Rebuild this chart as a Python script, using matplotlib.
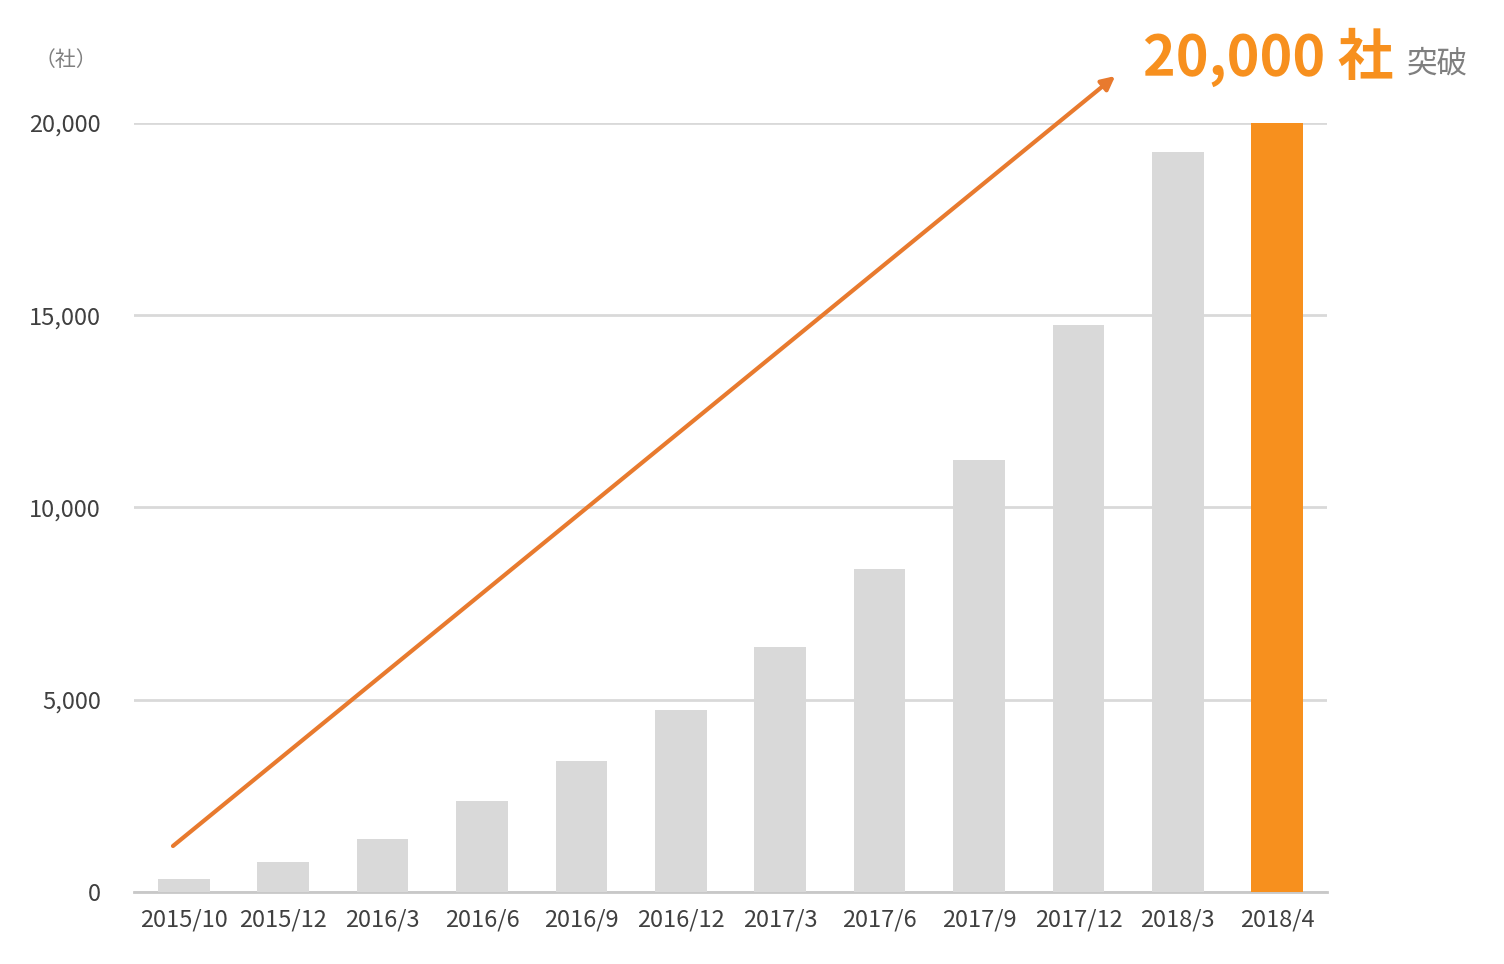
import matplotlib
matplotlib.use("Agg")
import matplotlib.pyplot as plt

plt.rcParams['font.family'] = ['Noto Sans CJK JP', 'DejaVu Sans']

categories = ["2015/10", "2015/12", "2016/3", "2016/6", "2016/9", "2016/12",
              "2017/3", "2017/6", "2017/9", "2017/12", "2018/3", "2018/4"]
values = [340, 780, 1380, 2370, 3410, 4730, 6370, 8400, 11240, 14750, 19250, 20000]
yticks = [0, 5000, 10000, 15000, 20000]
ytick_labels = ["0", "5,000", "10,000", "15,000", "20,000"]

grey = "#D9D9D9"
orange = "#F7901E"
arrow_col = "#E87A2E"
text_col = "#404040"

fig = plt.figure(figsize=(15.04, 9.64), dpi=100)
ax = fig.add_axes([0.0891, 0.0747, 0.7932, 0.7977])

colors = [grey] * (len(values) - 1) + [orange]
x = list(range(len(categories)))
ax.bar(x, values, width=0.52, color=colors, zorder=3)

ax.set_xlim(-0.5, len(categories) - 0.5)
ax.set_ylim(0, 20000)
ax.set_yticks(yticks)
ax.set_yticklabels(ytick_labels)
ax.set_xticks(x)
ax.set_xticklabels(categories)
ax.grid(axis='y', color=grey, linewidth=2, zorder=0)
for s in ['top', 'right', 'left']:
    ax.spines[s].set_visible(False)
ax.spines['bottom'].set_color("#C8C8C8")
ax.spines['bottom'].set_linewidth(2)
ax.tick_params(axis='both', length=0, labelsize=17, labelcolor=text_col)
ax.tick_params(axis='y', pad=24)
ax.tick_params(axis='x', pad=12)

ax.annotate("", xy=(9.37, 21222), xytext=(-0.108, 1196),
            arrowprops=dict(arrowstyle="-|>,head_length=0.8,head_width=0.4",
                            color=arrow_col, lw=3, shrinkA=0, shrinkB=0),
            annotation_clip=False, zorder=5)

fig.text(1143/1504, 1 - 75/964, "20,000 社", color=orange, fontsize=40,
         fontweight='bold', ha='left', va='baseline')
fig.text(1407/1504, 1 - 73/964, "突破", color="#7F7F7F", fontsize=22,
         ha='left', va='baseline')
fig.text(66/1504, 1 - 60/964, "（社）", color="#7F7F7F", fontsize=15,
         ha='center', va='center')

fig.savefig("out.png", dpi=100, facecolor='white')
